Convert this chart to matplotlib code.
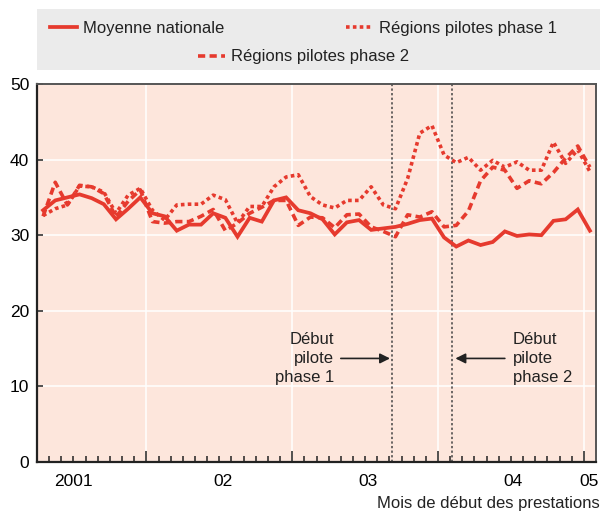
import matplotlib
matplotlib.use('Agg')
import matplotlib.pyplot as plt
from matplotlib.patches import Rectangle

plt.rcParams['font.family'] = ['Liberation Sans', 'DejaVu Sans']
plt.rcParams['font.size'] = 12

# months since Jan 2001 (mid-month), Apr 2001 .. Jan 2005
months = [m + 0.5 for m in range(3, 49)]

moyenne = [33.3, 34.6, 35.0, 35.4, 34.9, 34.1, 32.1, 33.5, 35.0, 32.9,
           32.5, 30.6, 31.4, 31.4, 32.9, 32.3, 29.8, 32.3, 31.8, 34.6,
           35.0, 33.3, 32.9, 32.1, 30.1, 31.7, 32.0, 30.7, 30.9, 31.1,
           31.5, 32.0, 32.2, 29.7, 28.5, 29.3, 28.7, 29.1, 30.5, 29.9,
           30.1, 30.0, 31.9, 32.1, 33.4, 30.6]
phase1 = [32.6, 33.5, 34.0, 36.5, 36.4, 35.7, 32.9, 35.3, 36.2, 33.3,
          32.0, 34.0, 34.1, 34.1, 35.3, 34.7, 31.6, 33.8, 33.8, 36.4,
          37.7, 38.0, 35.1, 34.0, 33.6, 34.6, 34.6, 36.4, 34.0, 33.5,
          37.5, 43.5, 44.5, 40.6, 39.6, 40.3, 38.6, 39.9, 39.0, 39.7,
          38.6, 38.6, 42.3, 39.5, 41.3, 38.4]
phase2 = [32.5, 37.0, 34.0, 36.6, 36.4, 35.5, 32.4, 34.5, 36.0, 31.8,
          31.6, 31.8, 31.8, 32.5, 33.4, 30.6, 31.6, 32.9, 33.7, 34.6,
          34.6, 31.3, 32.4, 32.3, 31.0, 32.7, 32.8, 31.1, 30.5, 29.8,
          32.7, 32.4, 33.1, 31.1, 31.3, 33.2, 37.2, 39.0, 38.6, 36.2,
          37.2, 36.8, 38.3, 40.2, 41.8, 39.0]

year_ticks = [12, 24, 36, 48]
month_ticks = [m for m in range(4, 49) if m % 12 != 0]
year_label_pos = [6, 18.3, 30.2, 42.2, 48.4]
year_labels = ['2001', '02', '03', '04', '05']
pilot_starts = [32.25, 37.13]

red = '#e63a2e'
dark = '#222222'

fig = plt.figure(figsize=(6, 5.11), dpi=100)

# grey legend band
fig.patches.append(Rectangle((37 / 600, 1 - 70 / 511), 563 / 600, 61 / 511,
                             transform=fig.transFigure, facecolor='#ebebeb',
                             edgecolor='none', zorder=0))

ax = fig.add_axes([37 / 600, 1 - 462 / 511, 559 / 600, 378 / 511])
ax.set_facecolor('#fde6dc')

l_moy, = ax.plot(months, moyenne, color=red, lw=2.7, solid_joinstyle='miter',
                 label='Moyenne nationale', zorder=4)
l_p1, = ax.plot(months, phase1, color=red, lw=2.6, linestyle=(0, (1, 0.9)),
                label='Régions pilotes phase 1', zorder=3)
l_p2, = ax.plot(months, phase2, color=red, lw=2.6, linestyle=(0, (2, 1.2)),
                label='Régions pilotes phase 2', zorder=3)

for x in pilot_starts:
    ax.axvline(x, color='#444444', lw=1.1, linestyle=(0, (1.5, 1.5)), zorder=2)

ax.set_xlim(3, 49)
ax.set_ylim(0, 50)
ax.set_yticks([0, 10, 20, 30, 40, 50])
ax.set_xticks(year_ticks)
ax.set_xticklabels([])
ax.set_xticks(month_ticks, minor=True)
ax.tick_params(axis='x', which='major', direction='in', length=8, width=1.1, color=dark)
ax.tick_params(axis='x', which='minor', direction='in', length=4.5, width=1.1, color=dark)
ax.tick_params(axis='y', direction='in', length=4.5, width=1.1, color=dark, pad=5.5,
               labelsize=12.5)

ax.grid(True, which='major', color='white', lw=1.1)
ax.set_axisbelow(True)

for side in ['left', 'bottom']:
    ax.spines[side].set_color(dark)
    ax.spines[side].set_linewidth(1.6)
for side in ['top', 'right']:
    ax.spines[side].set_color('#555555')
    ax.spines[side].set_linewidth(1.4)

sec = ax.secondary_xaxis('bottom')
sec.set_xticks(year_label_pos, labels=year_labels)
sec.tick_params(length=0, pad=9, labelsize=12.5)
sec.spines['bottom'].set_visible(False)

# pilot start annotations
arrow = dict(arrowstyle='-|>', color=dark, lw=1.2, mutation_scale=15,
             shrinkA=0, shrinkB=0)
ax.annotate('', xy=(32.05, 13.7), xytext=(28.0, 13.7), arrowprops=arrow)
ax.annotate('', xy=(37.43, 13.7), xytext=(41.5, 13.7), arrowprops=arrow)
ax.text(27.44, 13.7, 'Début\npilote\nphase 1', ha='right', va='center',
        multialignment='right', color=dark, linespacing=1.35)
ax.text(42.17, 13.7, 'Début\npilote\nphase 2', ha='left', va='center',
        multialignment='left', color=dark, linespacing=1.35)

fig.text(0.999, 1 - 503 / 511, 'Mois de début des prestations',
         ha='right', va='center', color=dark)

# legend, one entry per slot
slots = [(l_moy, 50, 28), (l_p1, 346, 28), (l_p2, 198, 57)]
for line, px, py in slots:
    fig.legend(handles=[line], loc='center left',
               bbox_to_anchor=(px / 600, 1 - py / 511), frameon=False,
               borderpad=0, borderaxespad=0, handlelength=1.6,
               handletextpad=0.4, fontsize=12, labelcolor=dark)

fig.savefig('out.png', dpi=100)
